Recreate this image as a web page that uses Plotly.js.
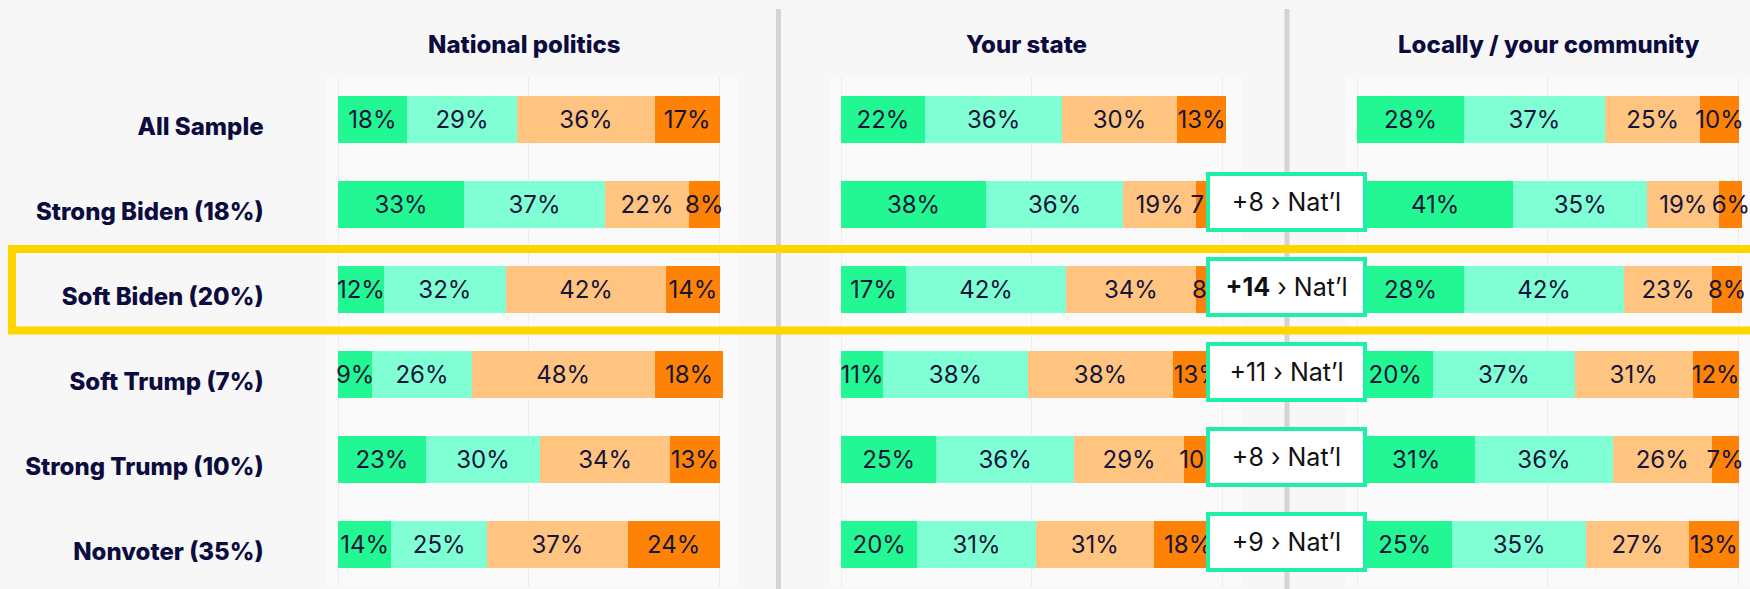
<!DOCTYPE html>
<html>
<head>
<meta charset="utf-8">
<script src="https://cdn.plot.ly/plotly-3.0.1.min.js"></script>
<style>
  html, body { margin: 0; padding: 0; background: #f7f7f8; }
  #chart { width: 1750px; height: 589px; }
</style>
</head>
<body>
<div id="chart"></div>
<script>
// ---------- DATA ----------
const rowLabels = ['All Sample', 'Strong Biden (18%)', 'Soft Biden (20%)', 'Soft Trump (7%)', 'Strong Trump (10%)', 'Nonvoter (35%)'];
const panelTitles = ['National politics', 'Your state', 'Locally / your community'];
const seriesNames = ['Very positive', 'Somewhat positive', 'Somewhat negative', 'Very negative'];

const national_s1 = [18, 33, 12, 9, 23, 14];
const national_s2 = [29, 37, 32, 26, 30, 25];
const national_s3 = [36, 22, 42, 48, 34, 37];
const national_s4 = [17, 8, 14, 18, 13, 24];

const state_s1 = [22, 38, 17, 11, 25, 20];
const state_s2 = [36, 36, 42, 38, 36, 31];
const state_s3 = [30, 19, 34, 38, 29, 31];
const state_s4 = [13, 7, 8, 13, 10, 18];

const local_s1 = [28, 41, 28, 20, 31, 25];
const local_s2 = [37, 35, 42, 37, 36, 35];
const local_s3 = [25, 19, 23, 31, 26, 27];
const local_s4 = [10, 6, 8, 12, 7, 13];

const calloutRows = ['Strong Biden (18%)', 'Soft Biden (20%)', 'Soft Trump (7%)', 'Strong Trump (10%)', 'Nonvoter (35%)'];
const calloutDiffs = [8, 14, 11, 8, 9];
const calloutBold = [false, true, false, false, false];

// ---------- STYLE ----------
const W = 1750, H = 589;
const segColors = ['#22f794', '#80ffd4', '#ffc47f', '#fd8205'];
const navy = '#0c0c3e';
const textDark = '#15153a';
const FONT = 'Inter, "Open Sans", sans-serif';

const panelData = [
  [national_s1, national_s2, national_s3, national_s4],
  [state_s1, state_s2, state_s3, state_s4],
  [local_s1, local_s2, local_s3, local_s4]
];

const panelPx = [[326.6, 738.6], [829.6, 1241.6], [1345.6, 1750]];
const panelRange = [[-3, 105], [-3, 105], [-3, 103]];
const yDomain = [1 - 587 / H, 1 - 77 / H];

const traces = [];
panelData.forEach((series, p) => {
  const ax = p === 0 ? '' : String(p + 1);
  series.forEach((vals, s) => {
    traces.push({
      type: 'bar',
      orientation: 'h',
      name: seriesNames[s],
      x: vals,
      y: rowLabels,
      xaxis: 'x' + ax,
      yaxis: 'y' + ax,
      width: 0.55,
      marker: { color: segColors[s], line: { width: 0 } },
      text: vals.map(v => v + '%'),
      texttemplate: '%{text}',
      textposition: 'inside',
      insidetextanchor: 'middle',
      constraintext: 'none',
      textangle: 0,
      textfont: { family: FONT, size: 24, color: textDark },
      showlegend: false,
      hoverinfo: 'skip'
    });
  });
});

const layout = {
  width: W, height: H,
  margin: { l: 0, r: 0, t: 0, b: 0 },
  paper_bgcolor: '#f7f7f8',
  plot_bgcolor: '#fafafa',
  barmode: 'stack',
  showlegend: false,
  font: { family: FONT, color: navy },
  annotations: [],
  shapes: []
};

panelPx.forEach((px, p) => {
  const ax = p === 0 ? '' : String(p + 1);
  layout['xaxis' + ax] = {
    domain: [px[0] / W, Math.min(1, px[1] / W)],
    range: panelRange[p],
    showticklabels: false,
    showgrid: true,
    gridcolor: '#eeeeee',
    gridwidth: 1,
    tick0: 0, dtick: 50,
    zeroline: false,
    showline: false,
    fixedrange: true,
    anchor: 'y' + ax
  };
  const ya = {
    domain: yDomain,
    type: 'category',
    categoryorder: 'array',
    categoryarray: rowLabels,
    range: [rowLabels.length - 0.5, -0.5],
    showgrid: false,
    zeroline: false,
    showline: false,
    fixedrange: true,
    anchor: 'x' + ax
  };
  if (p === 0) {
    ya.showticklabels = true;
    ya.ticks = '';
    ya.ticklabelstandoff = 62;
    ya.ticklabelshift = -7;
    ya.tickfont = { family: FONT, size: 24, color: navy, weight: 800 };
  } else {
    ya.showticklabels = false;
    ya.matches = 'y';
  }
  layout['yaxis' + ax] = ya;

  const centerPx = [524, 1026, 1548][p];
  layout.annotations.push({
    xref: 'paper', yref: 'paper',
    x: centerPx / W, y: 1 - 44 / H,
    xanchor: 'center', yanchor: 'middle',
    text: panelTitles[p],
    showarrow: false,
    font: { family: FONT, size: 24, color: navy, weight: 800 }
  });
});

// vertical dividers
[778.5, 1287].forEach(xp => {
  layout.shapes.push({
    type: 'line', xref: 'paper', yref: 'paper',
    x0: xp / W, x1: xp / W, y0: 1 - 9 / H, y1: -0.01,
    line: { color: '#d4d4d4', width: 5 },
    layer: 'below'
  });
});

// highlight frame around one row
layout.shapes.push({
  type: 'rect', xref: 'paper', yref: 'paper',
  x0: 12 / W, x1: 1.01,
  y0: 1 - 330.5 / H, y1: 1 - 249 / H,
  line: { color: '#ffd500', width: 8 },
  fillcolor: 'rgba(0,0,0,0)',
  layer: 'above'
});

// callouts
calloutRows.forEach((r, i) => {
  const num = '+' + calloutDiffs[i];
  layout.annotations.push({
    xref: 'paper', yref: 'y',
    x: 1286.5 / W, y: r, yshift: 2.5,
    xanchor: 'center', yanchor: 'middle',
    text: (calloutBold[i] ? '<b>' + num + '</b>' : num) + ' › Nat’l',
    showarrow: false,
    width: 153, height: 52,
    align: 'center', valign: 'middle',
    bgcolor: '#ffffff',
    bordercolor: '#1ff0a6',
    borderwidth: 4,
    borderpad: 0,
    font: { family: FONT, size: 25, color: '#111111' }
  });
});

Plotly.newPlot('chart', traces, layout, { displayModeBar: false, staticPlot: true });
</script>
</body>
</html>
